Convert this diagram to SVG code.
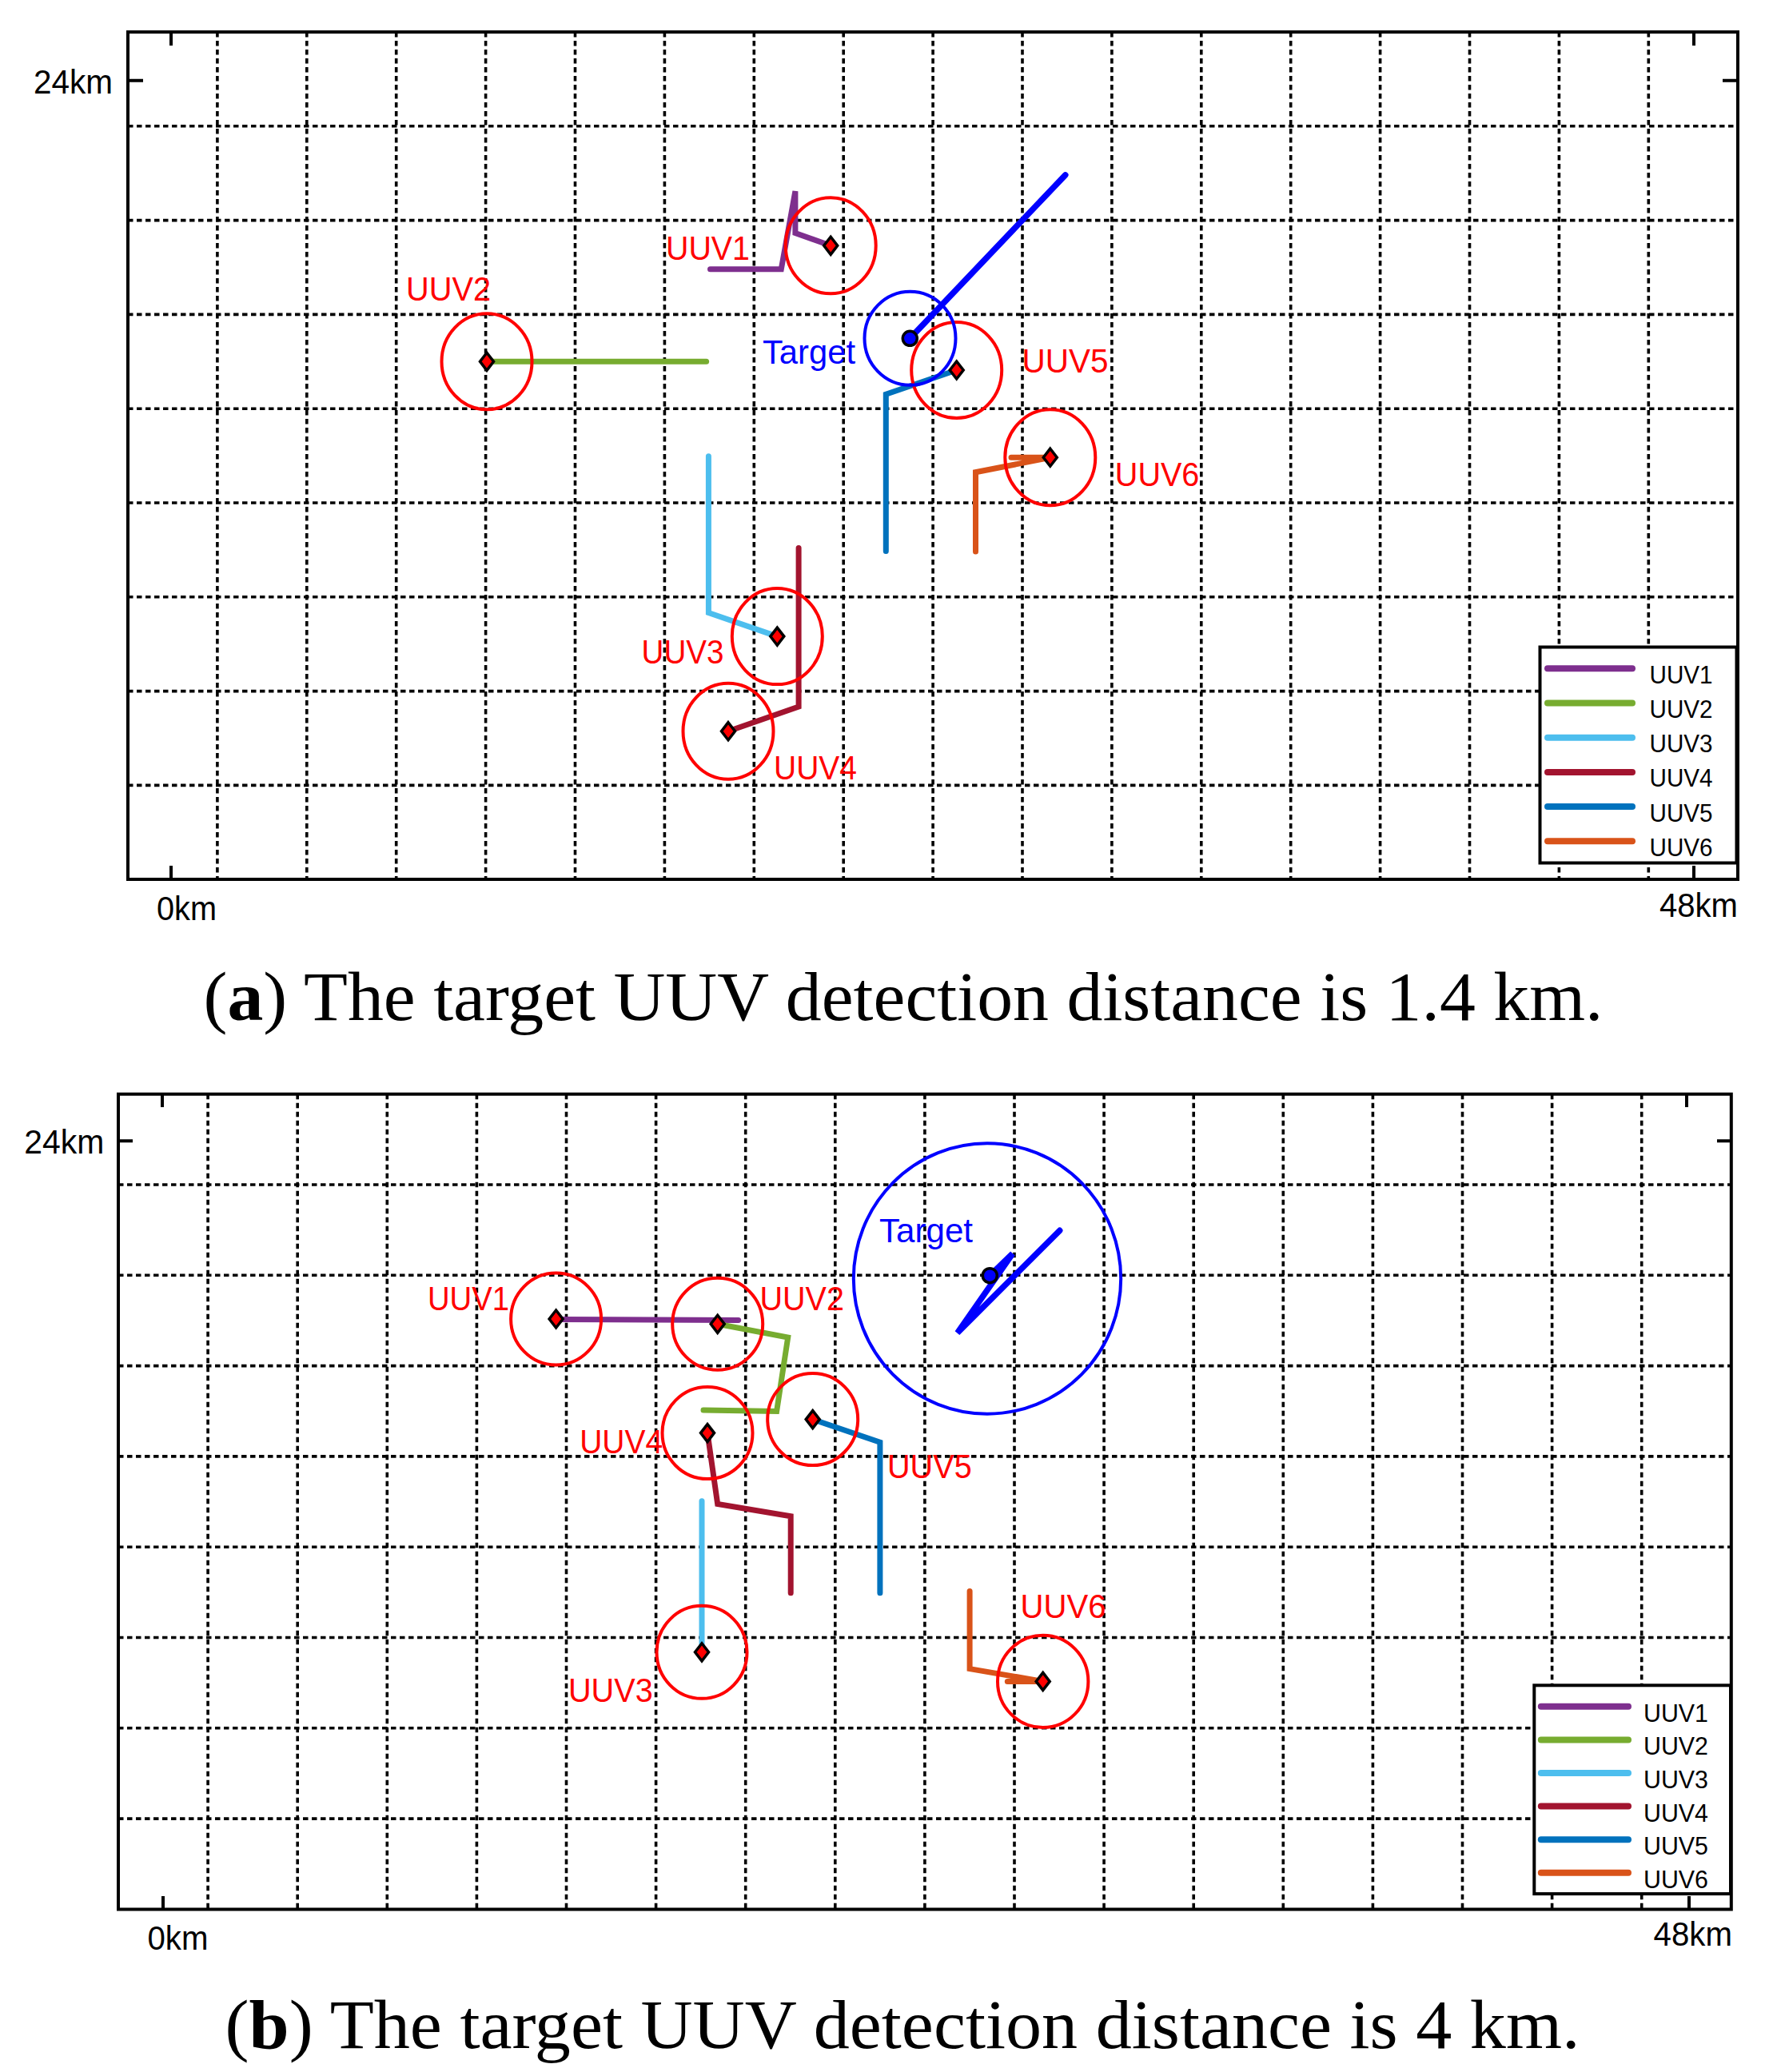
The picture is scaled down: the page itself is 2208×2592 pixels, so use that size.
<svg xmlns="http://www.w3.org/2000/svg" width="2208" height="2592" viewBox="0 0 2208 2592">
<style>
.bg{fill:#ffffff}
.frame{fill:none;stroke:#000;stroke-width:4}
.tick{stroke:#000;stroke-width:4}
.grid{stroke:#000;stroke-width:3.6;stroke-dasharray:6.5 4.5;fill:none}
.ring{fill:none;stroke:#ff0000;stroke-width:4}
.tring{fill:none;stroke:#0000ff;stroke-width:4}
.traj{fill:none;stroke-width:7;stroke-linejoin:miter;stroke-linecap:round}
.tpath{fill:none;stroke:#0000ff;stroke-width:7.5;stroke-linecap:round;stroke-linejoin:miter}
.dot{fill:#0000ff;stroke:#000;stroke-width:3.5}
.dia{fill:#ff0000;stroke:#000;stroke-width:3.5}
.lbl{font-family:"Liberation Sans",Arial,sans-serif;font-size:42px;fill:#ff0000}
.tlbl{font-family:"Liberation Sans",Arial,sans-serif;font-size:42px;fill:#0000ff}
.ax{font-family:"Liberation Sans",Arial,sans-serif;font-size:42px;fill:#000}
.leg{font-family:"Liberation Sans",Arial,sans-serif;font-size:32px;fill:#000}
.legbox{fill:#fff;stroke:#000;stroke-width:4}
.legline{stroke-width:8;stroke-linecap:round}
.cap{font-family:"Liberation Serif","Times New Roman",serif;font-size:86px;fill:#000}
.c1{stroke:#7E2F8E}.c2{stroke:#77AC30}.c3{stroke:#4DBEEE}.c4{stroke:#A2142F}.c5{stroke:#0072BD}.c6{stroke:#D95319}
</style>
<defs>
<path id="dia" class="dia" d="M0,-11 L8.5,0 L0,11 L-8.5,0Z"/>
</defs>
<rect class="bg" x="0" y="0" width="2208" height="2592"/>

<!-- ================= Panel (a) ================= -->
<g id="panel-a-axes">
<g class="grid">
<path d="M271.9,40V1100M383.8,40V1100M495.7,40V1100M607.6,40V1100M719.5,40V1100M831.4,40V1100M943.3,40V1100M1055.2,40V1100M1167.1,40V1100M1279,40V1100M1390.9,40V1100M1502.8,40V1100M1614.7,40V1100M1726.6,40V1100M1838.5,40V1100M1950.4,40V1100M2062.3,40V1100"/>
<path d="M160,157.8H2174M160,275.6H2174M160,393.4H2174M160,511.2H2174M160,629H2174M160,746.8H2174M160,864.6H2174M160,982.4H2174"/>
</g>
<rect class="frame" x="160" y="40" width="2014" height="1060"/>
<path class="tick" d="M214,40V57M214,1100V1083M2119,40V57M2119,1100V1083M160,100.7H179M2174,100.7H2155"/>
<text class="ax" x="42" y="117" textLength="99" lengthAdjust="spacingAndGlyphs">24km</text>
<text class="ax" x="196" y="1151" textLength="75" lengthAdjust="spacingAndGlyphs">0km</text>
<text class="ax" x="2076" y="1147" textLength="98" lengthAdjust="spacingAndGlyphs">48km</text>
</g>

<g id="connectors-a">
<path class="traj c1" d="M1039.2,307.3L994.9,291.6L994.9,239.2L977.3,336.7L888.5,336.7"/>
<path class="traj c2" d="M609,452.3L883.6,452.3"/>
<path class="traj c3" d="M972.3,796.1L886.4,766.6L886.4,570.7"/>
<path class="traj c4" d="M911,914.7L999.1,884.1L999.1,685.5"/>
<path class="traj c5" d="M1196.7,463L1108.3,493.3L1108.3,689.5"/>
<path class="traj c6" d="M1220.5,690L1220.5,590.7L1314,572.3L1265,572.3"/>
<path class="tpath" d="M1138.3,423.3L1332.8,218.9"/>
</g>

<g id="a-uuv1"><ellipse class="ring" cx="1039.2" cy="307.3" rx="56.5" ry="60"/><use href="#dia" x="1039.2" y="307.3"/><text class="lbl" x="833" y="325" textLength="105" lengthAdjust="spacingAndGlyphs">UUV1</text></g>
<g id="a-uuv2"><ellipse class="ring" cx="609" cy="452.3" rx="56.5" ry="60"/><use href="#dia" x="609" y="452.3"/><text class="lbl" x="508" y="376" textLength="106" lengthAdjust="spacingAndGlyphs">UUV2</text></g>
<g id="a-uuv3"><ellipse class="ring" cx="972.3" cy="796.1" rx="56.5" ry="60"/><use href="#dia" x="972.3" y="796.1"/><text class="lbl" x="802.6" y="830" textLength="103" lengthAdjust="spacingAndGlyphs">UUV3</text></g>
<g id="a-uuv4"><ellipse class="ring" cx="911" cy="914.7" rx="56.5" ry="60"/><use href="#dia" x="911" y="914.7"/><text class="lbl" x="968" y="975" textLength="104" lengthAdjust="spacingAndGlyphs">UUV4</text></g>
<g id="a-uuv5"><ellipse class="ring" cx="1196.7" cy="463" rx="56.5" ry="60"/><use href="#dia" x="1196.7" y="463"/><text class="lbl" x="1278.6" y="466" textLength="108" lengthAdjust="spacingAndGlyphs">UUV5</text></g>
<g id="a-uuv6"><ellipse class="ring" cx="1313.8" cy="572.2" rx="56.5" ry="60"/><use href="#dia" x="1313.8" y="572.2"/><text class="lbl" x="1394.8" y="608" textLength="105.6" lengthAdjust="spacingAndGlyphs">UUV6</text></g>
<g id="a-target"><ellipse class="tring" cx="1138.5" cy="423.2" rx="57" ry="58.5"/><circle class="dot" cx="1138.3" cy="423.3" r="9"/><text class="tlbl" x="954" y="455" textLength="116" lengthAdjust="spacingAndGlyphs">Target</text></g>

<g id="a-legend">
<rect class="legbox" x="1926.5" y="809.5" width="246" height="270"/>
<path class="legline c1" d="M1936,836.3H2042"/>
<path class="legline c2" d="M1936,879.5H2042"/>
<path class="legline c3" d="M1936,922.7H2042"/>
<path class="legline c4" d="M1936,965.9H2042"/>
<path class="legline c5" d="M1936,1009.1H2042"/>
<path class="legline c6" d="M1936,1052.3H2042"/>
<text class="leg" x="2063.6" y="854.8" textLength="79" lengthAdjust="spacingAndGlyphs">UUV1</text>
<text class="leg" x="2063.6" y="898" textLength="79" lengthAdjust="spacingAndGlyphs">UUV2</text>
<text class="leg" x="2063.6" y="941.2" textLength="79" lengthAdjust="spacingAndGlyphs">UUV3</text>
<text class="leg" x="2063.6" y="984.4" textLength="79" lengthAdjust="spacingAndGlyphs">UUV4</text>
<text class="leg" x="2063.6" y="1027.6" textLength="79" lengthAdjust="spacingAndGlyphs">UUV5</text>
<text class="leg" x="2063.6" y="1070.8" textLength="79" lengthAdjust="spacingAndGlyphs">UUV6</text>
</g>

<text id="caption-a" class="cap" x="254.5" y="1276" textLength="1751" lengthAdjust="spacingAndGlyphs">(<tspan font-weight="bold">a</tspan>) The target UUV detection distance is 1.4 km.</text>

<!-- ================= Panel (b) ================= -->
<g id="panel-b-axes">
<g class="grid">
<path d="M260.1,1368.7V2388.5M372.2,1368.7V2388.5M484.3,1368.7V2388.5M596.4,1368.7V2388.5M708.5,1368.7V2388.5M820.6,1368.7V2388.5M932.7,1368.7V2388.5M1044.8,1368.7V2388.5M1156.9,1368.7V2388.5M1269,1368.7V2388.5M1381.1,1368.7V2388.5M1493.2,1368.7V2388.5M1605.3,1368.7V2388.5M1717.4,1368.7V2388.5M1829.5,1368.7V2388.5M1941.6,1368.7V2388.5M2053.7,1368.7V2388.5"/>
<path d="M148,1482H2165.8M148,1595.3H2165.8M148,1708.6H2165.8M148,1821.9H2165.8M148,1935.2H2165.8M148,2048.5H2165.8M148,2161.8H2165.8M148,2275.1H2165.8"/>
</g>
<rect class="frame" x="148" y="1368.7" width="2017.8" height="1019.8"/>
<path class="tick" d="M203,1368.7V1385M204,2388.5V2372M2110,1368.7V1385M2113,2388.5V2372M148,1427.2H166M2165.8,1427.2H2148"/>
<text class="ax" x="30.3" y="1442.6" textLength="100" lengthAdjust="spacingAndGlyphs">24km</text>
<text class="ax" x="184.5" y="2439" textLength="76" lengthAdjust="spacingAndGlyphs">0km</text>
<text class="ax" x="2068.6" y="2434" textLength="98.4" lengthAdjust="spacingAndGlyphs">48km</text>
</g>

<g id="connectors-b">
<path class="traj c1" d="M695.6,1650.5L923.7,1651.5"/>
<path class="traj c2" d="M897.7,1656.3L985.7,1673L971.6,1765.5L880,1764"/>
<path class="traj c3" d="M878,2066.8L878,1877.7"/>
<path class="traj c4" d="M885,1792.6L897.7,1881.5L989.2,1896.8L989.2,1992.7"/>
<path class="traj c5" d="M1016.7,1775.6L1100.9,1804.2L1100.9,1992.7"/>
<path class="traj c6" d="M1213.1,1990.5L1213.1,2087.6L1304.7,2103.4L1260.3,2103.4"/>
<path class="tpath" d="M1238.3,1595.7L1266.7,1568.3L1197.7,1667.3L1325.7,1539.3"/>
</g>

<g id="b-uuv1"><ellipse class="ring" cx="695.6" cy="1650" rx="56.5" ry="57.5"/><use href="#dia" x="695.6" y="1650"/><text class="lbl" x="535" y="1638.5" textLength="102" lengthAdjust="spacingAndGlyphs">UUV1</text></g>
<g id="b-uuv2"><ellipse class="ring" cx="897.7" cy="1656.3" rx="56.5" ry="57.5"/><use href="#dia" x="897.7" y="1656.3"/><text class="lbl" x="950.5" y="1638.5" textLength="105.5" lengthAdjust="spacingAndGlyphs">UUV2</text></g>
<g id="b-uuv3"><ellipse class="ring" cx="878" cy="2066.8" rx="56.5" ry="58"/><use href="#dia" x="878" y="2066.8"/><text class="lbl" x="711" y="2128.6" textLength="105.7" lengthAdjust="spacingAndGlyphs">UUV3</text></g>
<g id="b-uuv4"><ellipse class="ring" cx="885" cy="1792.6" rx="56.5" ry="57.5"/><use href="#dia" x="885" y="1792.6"/><text class="lbl" x="725.2" y="1818.4" textLength="104" lengthAdjust="spacingAndGlyphs">UUV4</text></g>
<g id="b-uuv5"><ellipse class="ring" cx="1016.7" cy="1775.6" rx="56.5" ry="57.5"/><use href="#dia" x="1016.7" y="1775.6"/><text class="lbl" x="1110" y="1849" textLength="105.7" lengthAdjust="spacingAndGlyphs">UUV5</text></g>
<g id="b-uuv6"><ellipse class="ring" cx="1304.7" cy="2103.4" rx="56.7" ry="57.6"/><use href="#dia" x="1304.7" y="2103.4"/><text class="lbl" x="1276.5" y="2024.4" textLength="107" lengthAdjust="spacingAndGlyphs">UUV6</text></g>
<g id="b-target"><ellipse class="tring" cx="1235" cy="1599.5" rx="167.2" ry="169.2"/><circle class="dot" cx="1238.3" cy="1595.7" r="9"/><text class="tlbl" x="1100" y="1553.5" textLength="117" lengthAdjust="spacingAndGlyphs">Target</text></g>

<g id="b-legend">
<rect class="legbox" x="1919.3" y="2108.3" width="245.7" height="260.8"/>
<path class="legline c1" d="M1927.8,2134.8H2037"/>
<path class="legline c2" d="M1927.8,2176.4H2037"/>
<path class="legline c3" d="M1927.8,2218H2037"/>
<path class="legline c4" d="M1927.8,2259.6H2037"/>
<path class="legline c5" d="M1927.8,2301.2H2037"/>
<path class="legline c6" d="M1927.8,2342.8H2037"/>
<text class="leg" x="2056" y="2153.8" textLength="81" lengthAdjust="spacingAndGlyphs">UUV1</text>
<text class="leg" x="2056" y="2195.4" textLength="81" lengthAdjust="spacingAndGlyphs">UUV2</text>
<text class="leg" x="2056" y="2237" textLength="81" lengthAdjust="spacingAndGlyphs">UUV3</text>
<text class="leg" x="2056" y="2278.6" textLength="81" lengthAdjust="spacingAndGlyphs">UUV4</text>
<text class="leg" x="2056" y="2320.2" textLength="81" lengthAdjust="spacingAndGlyphs">UUV5</text>
<text class="leg" x="2056" y="2361.8" textLength="81" lengthAdjust="spacingAndGlyphs">UUV6</text>
</g>

<text id="caption-b" class="cap" x="281.6" y="2562" textLength="1695" lengthAdjust="spacingAndGlyphs">(<tspan font-weight="bold">b</tspan>) The target UUV detection distance is 4 km.</text>
</svg>
